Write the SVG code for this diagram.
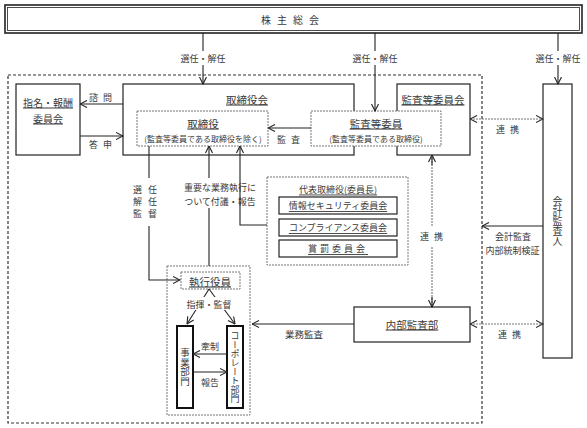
<svg xmlns="http://www.w3.org/2000/svg" width="587" height="428" viewBox="0 0 587 428">
<style>
text{font-family:"Noto Sans CJK JP","Noto Sans",sans-serif;fill:#3a3a3a;text-anchor:middle;dominant-baseline:central}
.u{text-decoration:underline}
.v{writing-mode:vertical-rl}
.box{fill:#fff;stroke:#222;stroke-width:1.2}
.thick{fill:#fff;stroke:#111;stroke-width:2}
.gbox{fill:#fff;stroke:#777;stroke-width:1;stroke-dasharray:2 1}
.dash{fill:none;stroke:#333;stroke-width:1.2;stroke-dasharray:3 2}
.ln{fill:none;stroke:#222;stroke-width:1.1}
.gl{fill:none;stroke:#777;stroke-width:1.1;stroke-dasharray:2 1}
</style>
<defs>
<marker id="ah" viewBox="0 0 8 8" refX="7.5" refY="4" markerWidth="8" markerHeight="8" markerUnits="userSpaceOnUse" orient="auto-start-reverse">
<path d="M0.5,0.5 L7.5,4 L0.5,7.5" fill="none" stroke="#222" stroke-width="1.1"/>
</marker>
</defs>

<rect class="dash" x="8" y="75" width="474" height="348"/>

<g id="kabunushi">
<rect x="5" y="5" width="577" height="28" fill="#fff" stroke="#222" stroke-width="1.6"/>
<rect x="7.5" y="7.5" width="572" height="23" fill="none" stroke="#222" stroke-width="0.8"/>
<text x="293" y="19" font-size="10" letter-spacing="6">株主総会</text>
</g>

<g id="torishimariyakukai">
<rect class="box" x="123" y="84" width="231" height="71"/>
<text class="u" x="247" y="99" font-size="10.5">取締役会</text>
</g>
<g id="torishimariyaku">
<rect class="gbox" x="137" y="111" width="131" height="35"/>
<text class="u" x="203" y="123" font-size="10.5">取締役</text>
<text x="203" y="138" font-size="8">(監査等委員である取締役を除く)</text>
</g>

<g id="kansatouiinkai">
<rect class="box" x="397" y="84" width="73" height="71"/>
<text class="u" x="433" y="99" font-size="10.5">監査等委員会</text>
</g>
<g id="kansatouiin">
<rect class="gbox" x="311" y="111" width="130" height="35"/>
<text class="u" x="376" y="123" font-size="10.5">監査等委員</text>
<text x="376" y="138" font-size="8">(監査等委員である取締役)</text>
</g>

<g id="shimei">
<rect class="box" x="16" y="84" width="64" height="71"/>
<text class="u" x="48" y="102" font-size="10">指名・報酬</text>
<text class="u" x="48" y="118" font-size="10">委員会</text>
</g>

<g id="kaikei">
<rect class="box" x="543" y="84" width="29" height="274"/>
<text class="v" x="557.5" y="221" font-size="10">会計監査人</text>
</g>

<g id="daihyo">
<rect class="gbox" x="267" y="177" width="141" height="88"/>
<text class="u" x="338" y="189" font-size="9">代表取締役(委員長)</text>
<rect class="box" x="279" y="197" width="118" height="17" stroke-width="1.4"/>
<text class="u" x="338" y="205.5" font-size="9">情報セキュリティ委員会</text>
<rect class="box" x="279" y="219" width="118" height="17" stroke-width="1.4"/>
<text class="u" x="338" y="227.5" font-size="9">コンプライアンス委員会</text>
<rect class="box" x="279" y="240" width="118" height="17" stroke-width="1.4"/>
<text class="u" x="338" y="248.5" font-size="9" letter-spacing="3">賞罰委員会</text>
</g>

<g id="naibukansa">
<rect class="box" x="354" y="307" width="116" height="35"/>
<text class="u" x="412" y="324" font-size="10.5">内部監査部</text>
</g>

<g id="shikko">
<rect class="gbox" x="167" y="266" width="83" height="149"/>
<rect class="gbox" x="181" y="272" width="59" height="17"/>
<text class="u" x="210" y="281" font-size="10.5">執行役員</text>
</g>
<g id="jigyo">
<rect class="thick" x="177" y="326" width="16" height="82"/>
<text class="v" x="185" y="367" font-size="9.5">事業部門</text>
</g>
<g id="corporate">
<rect class="thick" x="227" y="326" width="16" height="82"/>
<text class="v" x="235" y="367" font-size="9">コーポレート部門</text>
</g>

<g id="connectors">
<path class="ln" d="M203,33 V51 M203,65 V84" marker-end="url(#ah)"/>
<text x="203" y="58" font-size="9">選任・解任</text>
<path class="ln" d="M375,33 V51 M375,65 V111" marker-end="url(#ah)"/>
<text x="375" y="58" font-size="9">選任・解任</text>
<path class="ln" d="M558,33 V51 M558,65 V84" marker-end="url(#ah)"/>
<text x="558" y="58" font-size="9">選任・解任</text>

<path class="ln" d="M123,104 H80" marker-end="url(#ah)"/>
<text x="103" y="97" font-size="9" letter-spacing="5">諮問</text>
<path class="ln" d="M80,136 H123" marker-end="url(#ah)"/>
<text x="103" y="144" font-size="9" letter-spacing="5">答申</text>

<path class="ln" d="M311,128 H268" marker-end="url(#ah)"/>
<text x="291" y="139" font-size="9" letter-spacing="5">監査</text>

<path class="gl" d="M470,119 H543" marker-start="url(#ah)" marker-end="url(#ah)"/>
<text x="510" y="129" font-size="9" letter-spacing="5">連携</text>

<path class="ln" d="M149,146 V178 M149,226 V280 H180" marker-end="url(#ah)"/>
<text x="148" y="189" font-size="9" letter-spacing="6">選任</text>
<text x="148" y="201" font-size="9" letter-spacing="6">解任</text>
<text x="148" y="213" font-size="9" letter-spacing="6">監督</text>

<path class="ln" d="M209,266 V208 M209,178 V146" marker-end="url(#ah)"/>
<text x="220" y="187" font-size="9">重要な業務執行に</text>
<text x="220" y="201" font-size="9">ついて付議・報告</text>

<path class="ln" d="M267,225 H240 V146" marker-end="url(#ah)"/>

<path class="gl" d="M432,155 V226 M432,247 V307" stroke="#666"/>
<path class="ln" d="M432,165 V155" marker-end="url(#ah)"/>
<path class="ln" d="M432,297 V307" marker-end="url(#ah)"/>
<text x="434" y="236" font-size="9" letter-spacing="5">連携</text>

<path class="ln" d="M543,226 H482" marker-end="url(#ah)"/>
<text x="513" y="236.5" font-size="9">会計監査</text>
<text x="512.5" y="250" font-size="9">内部統制検証</text>

<path class="ln" d="M354,324 H252" marker-end="url(#ah)"/>
<text x="304" y="334" font-size="9.5">業務監査</text>

<path class="gl" d="M470,324 H543" marker-start="url(#ah)" marker-end="url(#ah)"/>
<text x="512" y="334" font-size="9" letter-spacing="5">連携</text>

<path class="ln" d="M209,289 L187,324" marker-end="url(#ah)"/>
<path class="ln" d="M209,289 L235,324" marker-end="url(#ah)"/>
<rect x="186" y="297" width="46" height="13" fill="#fff"/>
<text x="209" y="304" font-size="9">指揮・監督</text>

<path class="ln" d="M227,354 H193" marker-end="url(#ah)"/>
<text x="210" y="346" font-size="9">牽制</text>
<path class="ln" d="M193,372 H227" marker-end="url(#ah)"/>
<text x="210" y="382" font-size="9">報告</text>
</g>
</svg>
